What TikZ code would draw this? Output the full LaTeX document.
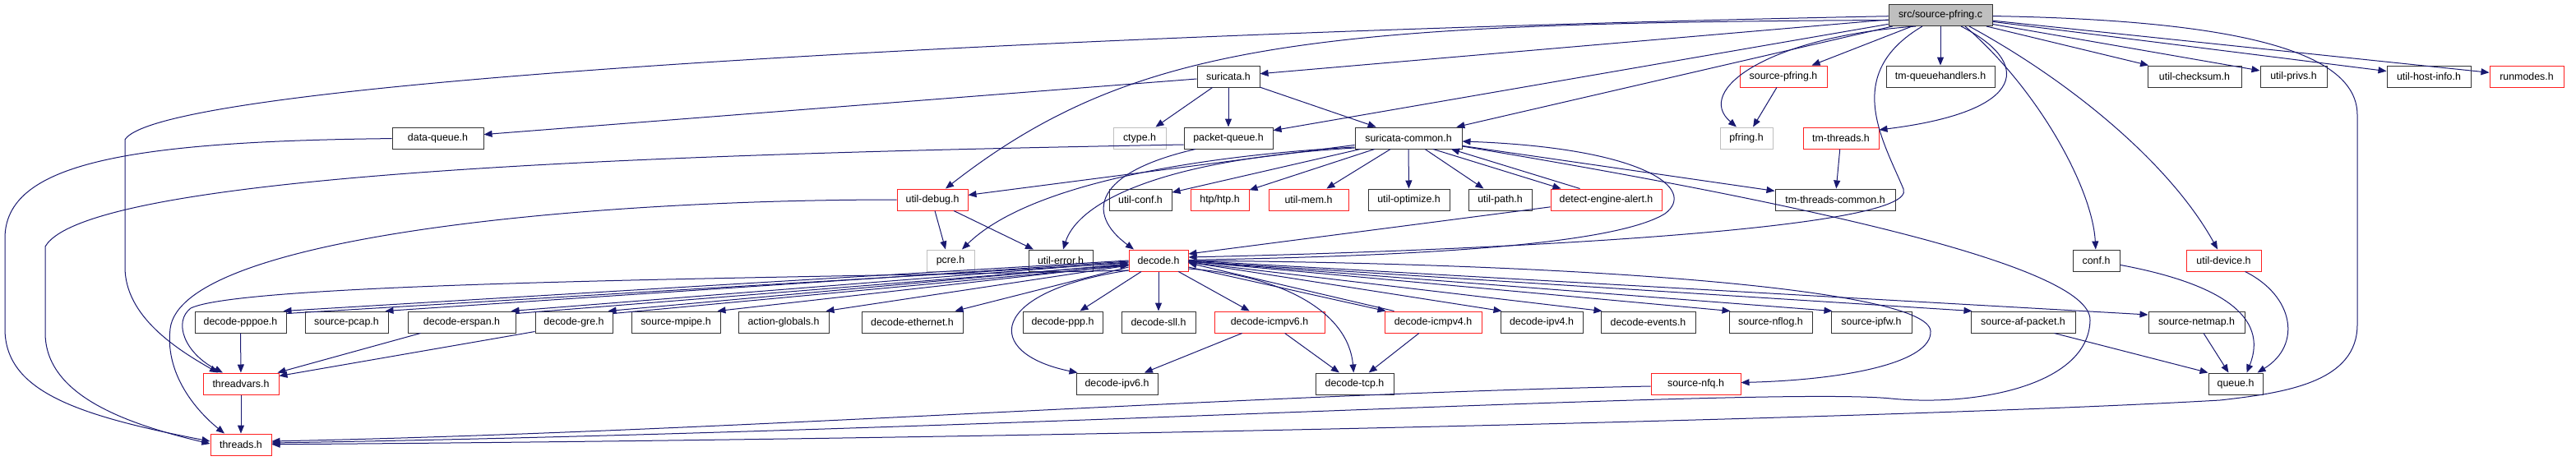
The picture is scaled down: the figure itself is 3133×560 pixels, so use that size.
\documentclass[tikz,border=0pt]{standalone}
\usepackage{fontspec}
\setmainfont{Liberation Sans}
\usetikzlibrary{arrows.meta}
\definecolor{edgec}{HTML}{191970}
\definecolor{greyb}{HTML}{BFBFBF}
\definecolor{nodeb}{HTML}{333333}
\definecolor{redb}{HTML}{FF2020}
\newcommand{\nfont}{\fontsize{12.4pt}{14pt}\selectfont}
\tikzset{
  nd/.style={draw=nodeb, rectangle, minimum height=26pt, inner sep=0pt, font=\nfont, line width=1pt, fill=white},
  rd/.style={nd, draw=redb},
  gd/.style={nd, draw=greyb},
  ed/.style={draw=edgec, line width=1pt, -{Triangle[length=10pt,width=8pt]}}
}
\begin{document}
\begin{tikzpicture}[x=1pt,y=-1pt]
\useasboundingbox (0,0) rectangle (3133,560);
% row 1
\node[nd, fill=greyb, minimum width=126pt] (root) at (2360,18.5) {src/source-pfring.c};
% row 2
\node[nd, minimum width=76pt] (suricata) at (1494,93) {suricata.h};
\node[rd, minimum width=106pt] (sourcepfringh) at (2169,93) {source-pfring.h};
\node[nd, minimum width=132pt] (tmqh) at (2360,93) {tm-queuehandlers.h};
\node[nd, minimum width=114pt] (utilchecksum) at (2669,93) {util-checksum.h};
\node[nd, minimum width=81pt] (utilprivs) at (2789.5,93) {util-privs.h};
\node[nd, minimum width=102pt] (utilhostinfo) at (2954,93) {util-host-info.h};
\node[rd, minimum width=90pt] (runmodes) at (3073,93) {runmodes.h};
% row 3
\node[nd, minimum width=111pt] (dataqueue) at (532.5,168) {data-queue.h};
\node[gd, minimum width=64pt] (ctype) at (1386,168) {ctype.h};
\node[nd, minimum width=108pt] (packetqueue) at (1494,168) {packet-queue.h};
\node[nd, minimum width=130pt] (suricatacommon) at (1713,168) {suricata-common.h};
\node[gd, minimum width=64pt] (pfring) at (2124,168) {pfring.h};
\node[rd, minimum width=92pt] (tmthreads) at (2239,168) {tm-threads.h};
% row 4
\node[rd, minimum width=86pt] (utildebug) at (1134,243) {util-debug.h};
\node[nd, minimum width=76pt] (utilconf) at (1387,243) {util-conf.h};
\node[rd, minimum width=71pt] (htp) at (1483.5,243) {htp/htp.h};
\node[rd, minimum width=97pt] (utilmem) at (1591.5,243) {util-mem.h};
\node[nd, minimum width=99pt] (utiloptimize) at (1713.5,243) {util-optimize.h};
\node[nd, minimum width=77pt] (utilpath) at (1824.5,243) {util-path.h};
\node[rd, minimum width=135pt] (detectenginealert) at (1953.5,243) {detect-engine-alert.h};
\node[nd, minimum width=146pt] (tmthreadscommon) at (2232,243) {tm-threads-common.h};
% row 5
\node[gd, minimum width=58pt] (pcre) at (1156,317) {pcre.h};
\node[nd, minimum width=78pt] (utilerror) at (1290,317) {util-error.h};
\node[rd, minimum width=72pt] (decode) at (1409,317) {decode.h};
\node[nd, minimum width=57pt] (conf) at (2549.5,317) {conf.h};
\node[rd, minimum width=91pt] (utildevice) at (2704.5,317) {util-device.h};
% row 6
\node[nd, minimum width=111pt] (decodepppoe) at (292.5,392) {decode-pppoe.h};
\node[nd, minimum width=101pt] (sourcepcap) at (421.5,392) {source-pcap.h};
\node[nd, minimum width=131pt] (decodeerspan) at (561.5,392) {decode-erspan.h};
\node[nd, minimum width=94pt] (decodegre) at (698,392) {decode-gre.h};
\node[nd, minimum width=108pt] (sourcempipe) at (822,392) {source-mpipe.h};
\node[nd, minimum width=110pt] (actionglobals) at (953,392) {action-globals.h};
\node[nd, minimum width=123pt] (decodeethernet) at (1109.5,392) {decode-ethernet.h};
\node[nd, minimum width=97pt] (decodeppp) at (1292.5,392) {decode-ppp.h};
\node[nd, minimum width=90pt] (decodesll) at (1409,392) {decode-sll.h};
\node[rd, minimum width=134pt] (decodeicmpv6) at (1544,392) {decode-icmpv6.h};
\node[rd, minimum width=118pt] (decodeicmpv4) at (1743,392) {decode-icmpv4.h};
\node[nd, minimum width=100pt] (decodeipv4) at (1875,392) {decode-ipv4.h};
\node[nd, minimum width=115pt] (decodeevents) at (2004.5,392) {decode-events.h};
\node[nd, minimum width=101pt] (sourcenflog) at (2153.5,392) {source-nflog.h};
\node[nd, minimum width=98pt] (sourceipfw) at (2276,392) {source-ipfw.h};
\node[nd, minimum width=127pt] (sourceafpacket) at (2460.5,392) {source-af-packet.h};
\node[nd, minimum width=117pt] (sourcenetmap) at (2671.5,392) {source-netmap.h};
% row 7
\node[rd, minimum width=92pt] (threadvars) at (293,467) {threadvars.h};
\node[nd, minimum width=99pt] (decodeipv6) at (1358.5,467) {decode-ipv6.h};
\node[nd, minimum width=95pt] (decodetcp) at (1647.5,467) {decode-tcp.h};
\node[rd, minimum width=109pt] (sourcenfq) at (2062.5,467) {source-nfq.h};
\node[nd, minimum width=66pt] (queue) at (2719,467) {queue.h};
% row 8
\node[rd, minimum width=74pt] (threads) at (293,541) {threads.h};

% ---- edges from root
\draw[ed] (root) -- (suricata);
\draw[ed] (root) -- (sourcepfringh);
\draw[ed] (root) -- (tmqh);
\draw[ed] (root) -- (utilchecksum);
\draw[ed] (root) -- (utilprivs);
\draw[ed] (root) -- (utilhostinfo);
\draw[ed] (root) -- (runmodes);
\draw[ed] (root) -- (packetqueue);
\draw[ed] (root) -- (suricatacommon);
\draw[ed] ([yshift=-6pt]root.west) .. controls (1600,28) and (1380,50) .. ([xshift=16pt]utildebug.north);
\draw[ed] (root) .. controls (1500,35) and (200,90) .. (152,170) -- (152,325) .. controls (152,385) and (215,425) .. ([xshift=-28pt]threadvars.north);
\draw[ed] (root) .. controls (2750,25) and (2867,70) .. (2867,140) -- (2867,395) .. controls (2867,465) and (2780,478) .. (2700,487) .. controls (2300,510) and (1200,535) .. (threads);
\draw[ed] ([xshift=30pt]root.south) .. controls (2480,110) and (2545,230) .. (conf);
\draw[ed] ([xshift=35pt]root.south) .. controls (2520,100) and (2640,200) .. (utildevice);
\draw[ed] ([xshift=-30pt]root.south) .. controls (2150,45) and (2060,110) .. ([xshift=-12pt]pfring.north);
\draw[ed] ([xshift=25pt]root.south) .. controls (2470,75) and (2470,135) .. ([yshift=10pt]tmthreads.east);
\draw[ed] ([xshift=-22pt]root.south) .. controls (2240,90) and (2290,170) .. (2315,230) .. controls (2335,280) and (1800,305) .. ([yshift=4pt]decode.east);

% ---- suricata.h
\draw[ed] (suricata) -- (dataqueue);
\draw[ed] (suricata) -- (ctype);
\draw[ed] (suricata) -- (packetqueue);
\draw[ed] (suricata) -- (suricatacommon);

% ---- data-queue / packet-queue
\draw[ed] (dataqueue) .. controls (150,172) and (6,200) .. (6,290) -- (6,400) .. controls (6,475) and (90,505) .. ([yshift=4pt]threads.west);
\draw[ed] ([yshift=-8pt]packetqueue.west) .. controls (900,186) and (110,205) .. (55,300) -- (55,405) .. controls (55,480) and (150,515) .. ([yshift=1pt]threads.west);
\draw[ed] ([xshift=-40pt]packetqueue.south) .. controls (1330,210) and (1320,260) .. ([xshift=-30pt]decode.north);

% ---- util-debug
\draw[ed] (utildebug.west) .. controls (700,243) and (220,290) .. (207,400) .. controls (200,460) and (245,505) .. ([xshift=-20pt]threads.north);
\draw[ed] ([xshift=3pt]utildebug.south) -- ([xshift=-6pt]pcre.north);
\draw[ed] ([xshift=26pt]utildebug.south) -- ([xshift=-33pt]utilerror.north);

% ---- suricata-common
\draw[ed] (suricatacommon) -- (utildebug);
\draw[ed] (suricatacommon) -- (utilconf);
\draw[ed] (suricatacommon) -- (htp);
\draw[ed] (suricatacommon) -- (utilmem);
\draw[ed] (suricatacommon) -- (utiloptimize);
\draw[ed] (suricatacommon) -- (utilpath);
\draw[ed] ([xshift=30pt]suricatacommon.south) -- ([xshift=-55pt]detectenginealert.north);
\draw[ed] ([xshift=-32pt]detectenginealert.north) -- ([xshift=52pt]suricatacommon.south);
\draw[ed] ([yshift=-11pt]suricatacommon.west) .. controls (1450,190) and (1250,225) .. ([xshift=14pt]pcre.north);
\draw[ed] ([yshift=-12pt]suricatacommon.west) .. controls (1400,195) and (1310,250) .. ([xshift=3pt]utilerror.north);
\draw[ed] (suricatacommon) -- (tmthreadscommon);
\draw[ed] ([yshift=-10pt]suricatacommon.east) .. controls (2150,240) and (2545,320) .. (2542,390) .. controls (2540,470) and (2400,495) .. (2300,485) .. controls (2150,470) and (1200,525) .. ([yshift=2pt]threads.east);

% ---- misc upper
\draw[ed] (tmthreads) -- (tmthreadscommon);
\draw[ed] (sourcepfringh) -- (pfring);
\draw[ed] (detectenginealert) -- ([yshift=8pt]decode.east);
\draw[ed] (decode) .. controls (1700,312) and (1960,300) .. (2025,260) .. controls (2065,230) and (2000,180) .. ([yshift=-4pt]suricatacommon.east);

% ---- decode.h outgoing left
\draw[ed] ([yshift=-12pt]decode.west) .. controls (1000,338) and (300,342) .. (232,375) .. controls (210,392) and (225,430) .. ([xshift=-22pt]threadvars.north);
\draw[ed] (decode.west) -- ([xshift=-4pt]decodepppoe.north east);
\draw[ed] ([yshift=-3pt]decodepppoe.north east) -- ([yshift=-3pt]decode.west);
\draw[ed] ([yshift=-1pt]decode.west) -- ([xshift=-4pt]sourcepcap.north east);
\draw[ed] ([yshift=-2pt]decode.west) -- ([xshift=-6pt]decodeerspan.north east);
\draw[ed] ([yshift=-3pt]decodeerspan.north east) -- ([yshift=-5pt]decode.west);
\draw[ed] ([yshift=-4pt]decode.west) -- ([xshift=-6pt]decodegre.north east);
\draw[ed] ([yshift=-3pt]decodegre.north east) -- ([yshift=-6pt]decode.west);
\draw[ed] ([yshift=-5pt]decode.west) -- ([xshift=-4pt]sourcempipe.north east);
\draw[ed] ([yshift=-6pt]decode.west) -- ([xshift=-4pt]actionglobals.north east);
\draw[ed] ([yshift=-8pt]decode.west) -- ([xshift=-10pt]decodeethernet.north east);
\draw[ed] (decode) -- (decodeppp);
\draw[ed] (decode) -- (decodesll);
\draw[ed] (decode) -- (decodeicmpv6);
\draw[ed] ([yshift=-12pt]decode.west) .. controls (1200,355) and (1195,430) .. ([xshift=2pt]decodeipv6.north west);

% ---- decode.h outgoing right
\draw[ed] ([yshift=-8pt]decode.east) -- ([xshift=2pt]decodeicmpv4.north west);
\draw[ed] ([xshift=12pt]decodeicmpv4.north west) -- ([yshift=-3pt]decode.east);
\draw[ed] ([yshift=-2pt]decode.east) -- ([xshift=2pt]decodeipv4.north west);
\draw[ed] ([yshift=-2pt]decode.east) -- ([xshift=2pt]decodeevents.north west);
\draw[ed] ([yshift=-1pt]decode.east) -- ([xshift=2pt]sourcenflog.north west);
\draw[ed] ([yshift=-1pt]decode.east) -- ([xshift=2pt]sourceipfw.north west);
\draw[ed] ([yshift=-1pt]decode.east) -- ([xshift=2pt]sourceafpacket.north west);
\draw[ed] (decode.east) -- ([yshift=9pt]sourcenetmap.west);
\draw[ed] (decode) .. controls (1900,320) and (2345,350) .. (2348,403) .. controls (2350,440) and (2250,462) .. (sourcenfq);
\draw[ed] ([yshift=-10pt]decode.east) .. controls (1560,335) and (1640,380) .. (decodetcp);

% ---- lower
\draw[ed] (decodeicmpv6) -- (decodeipv6);
\draw[ed] (decodeicmpv6) -- (decodetcp);
\draw[ed] (decodeicmpv4) -- (decodetcp);
\draw[ed] (decodepppoe) -- (threadvars);
\draw[ed] ([xshift=-50pt]decodeerspan.south) -- ([xshift=-2pt]threadvars.north east);
\draw[ed] ([yshift=2pt]decodegre.south west) -- ([yshift=-4pt]threadvars.north east);
\draw[ed] (threadvars) -- (threads);
\draw[ed] ([yshift=-3pt]sourcenfq.west) .. controls (1500,480) and (900,525) .. ([yshift=4pt]threads.east);
\draw[ed] (conf) .. controls (2700,345) and (2760,385) .. ([xshift=-20pt]queue.north east);
\draw[ed] ([xshift=26pt]utildevice.south) .. controls (2790,360) and (2800,420) .. ([xshift=-7pt]queue.north east);
\draw[ed] (sourcenetmap) -- (queue);
\draw[ed] ([xshift=38pt]sourceafpacket.south) -- (queue.north west);
\end{tikzpicture}
\end{document}
